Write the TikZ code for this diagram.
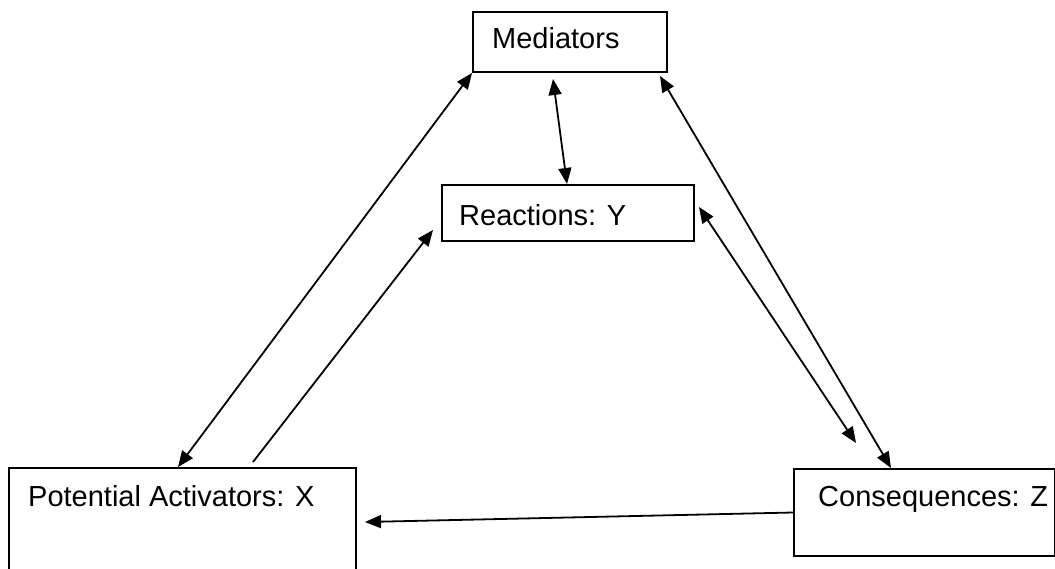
\documentclass[tikz,border=0pt]{standalone}
\usepackage{fontspec}
\setmainfont{Liberation Sans}
\usetikzlibrary{arrows.meta}
\tikzset{
  box/.style={draw=black, line width=2pt, fill=white, inner sep=0pt, anchor=north west},
  lbl/.style={inner sep=0pt, anchor=base west, font=\fontsize{29}{35}\selectfont},
  conn/.style={line width=1.8pt, draw=black},
  tip/.tip={Triangle[length=16pt,width=13pt]}
}
\begin{document}
\begin{tikzpicture}[x=1pt,y=-1pt]
\useasboundingbox (0,0) rectangle (1055,568);
\clip (0,0) rectangle (1055,568);
% boxes
\node[box, minimum width=194pt, minimum height=60pt] (med) at (472,11) {};
\node[box, minimum width=252pt, minimum height=56pt] (rea) at (441,184) {};
\node[box, minimum width=347pt, minimum height=108pt] (pot) at (8,467) {};
\node[box, minimum width=261pt, minimum height=87pt] (con) at (793,468) {};
% labels
\node[lbl] (medt) at (492,48) {Mediators};
\node[lbl] (reat) at (459,225) {Reactions: Y};
\node[lbl] (pott) at (28,506) {Potential Activators: X};
\node[lbl] (cont) at (818,506) {Consequences: Z};
% connectors
\draw[conn, tip-tip] ([xshift=170pt]pot.north west) -- (med.south west);
\draw[conn, -tip] ([xshift=245pt,yshift=5pt]pot.north west) -- ([xshift=-8pt,yshift=12pt]rea.south west);
\draw[conn, tip-tip] ([xshift=81pt,yshift=-6pt]med.south west) -- ([xshift=126pt]rea.north west);
\draw[conn, tip-tip] ([xshift=-8pt,yshift=-3pt]med.south east) -- ([xshift=98pt]con.north west);
\draw[conn, tip-tip] ([xshift=4pt,yshift=-23pt]rea.north east) -- ([xshift=63pt,yshift=25pt]con.north west);
\draw[conn, -tip] (con.west) -- ([xshift=8pt,yshift=-55pt]pot.north east);
\end{tikzpicture}
\end{document}
